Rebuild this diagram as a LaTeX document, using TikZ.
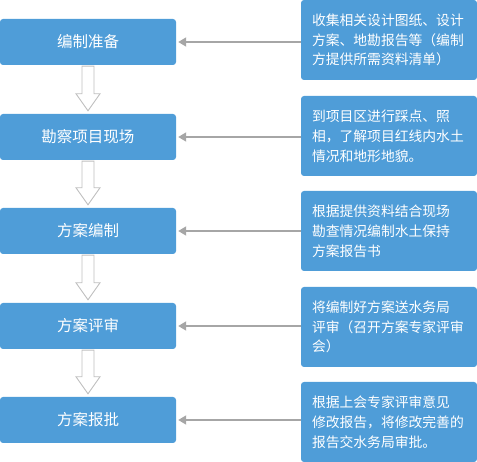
\documentclass[tikz,border=0pt]{standalone}
\usepackage{fontspec}
\newfontfamily\cjk{Noto Sans CJK SC}
\usetikzlibrary{arrows.meta}
\definecolor{boxblue}{RGB}{79,157,216}
\definecolor{arrgray}{RGB}{166,166,166}
\definecolor{outgray}{RGB}{192,192,192}
\tikzset{
  stepbox/.style={fill=boxblue, rounded corners=3pt, minimum width=176pt, minimum height=46pt, inner sep=0pt, text=white, font=\cjk\fontsize{15.5}{18}\selectfont},
  notebox/.style={fill=boxblue, rounded corners=3pt, minimum width=176pt, minimum height=80pt, inner xsep=11pt, inner ysep=0pt, text width=154pt, align=left, text=white, font=\cjk\fontsize{13.8}{19.8}\selectfont},
  harrow/.style={draw=arrgray, line width=1.8pt, -{Triangle[width=9pt,length=8pt]}, shorten >=2pt},
  downarrow/.style={draw=outgray, line width=0.9pt, fill=white}
}
\begin{document}
\begin{tikzpicture}[x=1pt,y=-1pt]
\useasboundingbox (0,0) rectangle (477,462);
% left step boxes
\node[stepbox] (l1) at (88,42) {编制准备};
\node[stepbox] (l2) at (88,137) {勘察项目现场};
\node[stepbox] (l3) at (88,231) {方案编制};
\node[stepbox] (l4) at (88,326) {方案评审};
\node[stepbox] (l5) at (88,420) {方案报批};
% right note boxes
\node[notebox] (r1) at (389,40) {收集相关设计图纸、设计\\方案、地勘报告等（编制\\方提供所需资料清单）};
\node[notebox] (r2) at (389,136) {到项目区进行踩点、照\\相，了解项目红线内水土\\情况和地形地貌。};
\node[notebox] (r3) at (389,231) {根据提供资料结合现场\\勘查情况编制水土保持\\方案报告书};
\node[notebox] (r4) at (389,327) {将编制好方案送水务局\\评审（召开方案专家评审\\会）};
\node[notebox] (r5) at (389,422) {根据上会专家评审意见\\修改报告，将修改完善的\\报告交水务局审批。};
% horizontal arrows
\foreach \i in {1,...,5}{
  \draw[harrow] (r\i.west |- l\i.east) -- (l\i.east);
}
% hollow down arrows
\foreach \a/\b in {1/2,2/3,3/4,4/5}{
  \path (l\a.south) ++(0,1) coordinate (t\a);
  \path (l\b.north) ++(0,-3) coordinate (p\a);
  \draw[downarrow] (t\a) ++(-6,0) -- ++(0,0) |- ([xshift=-6pt,yshift=17pt]p\a) -- ([xshift=-12pt,yshift=17pt]p\a) -- (p\a) -- ([xshift=12pt,yshift=17pt]p\a) -- ([xshift=6pt,yshift=17pt]p\a) -- ([xshift=6pt]t\a) -- cycle;
}
\end{tikzpicture}
\end{document}
